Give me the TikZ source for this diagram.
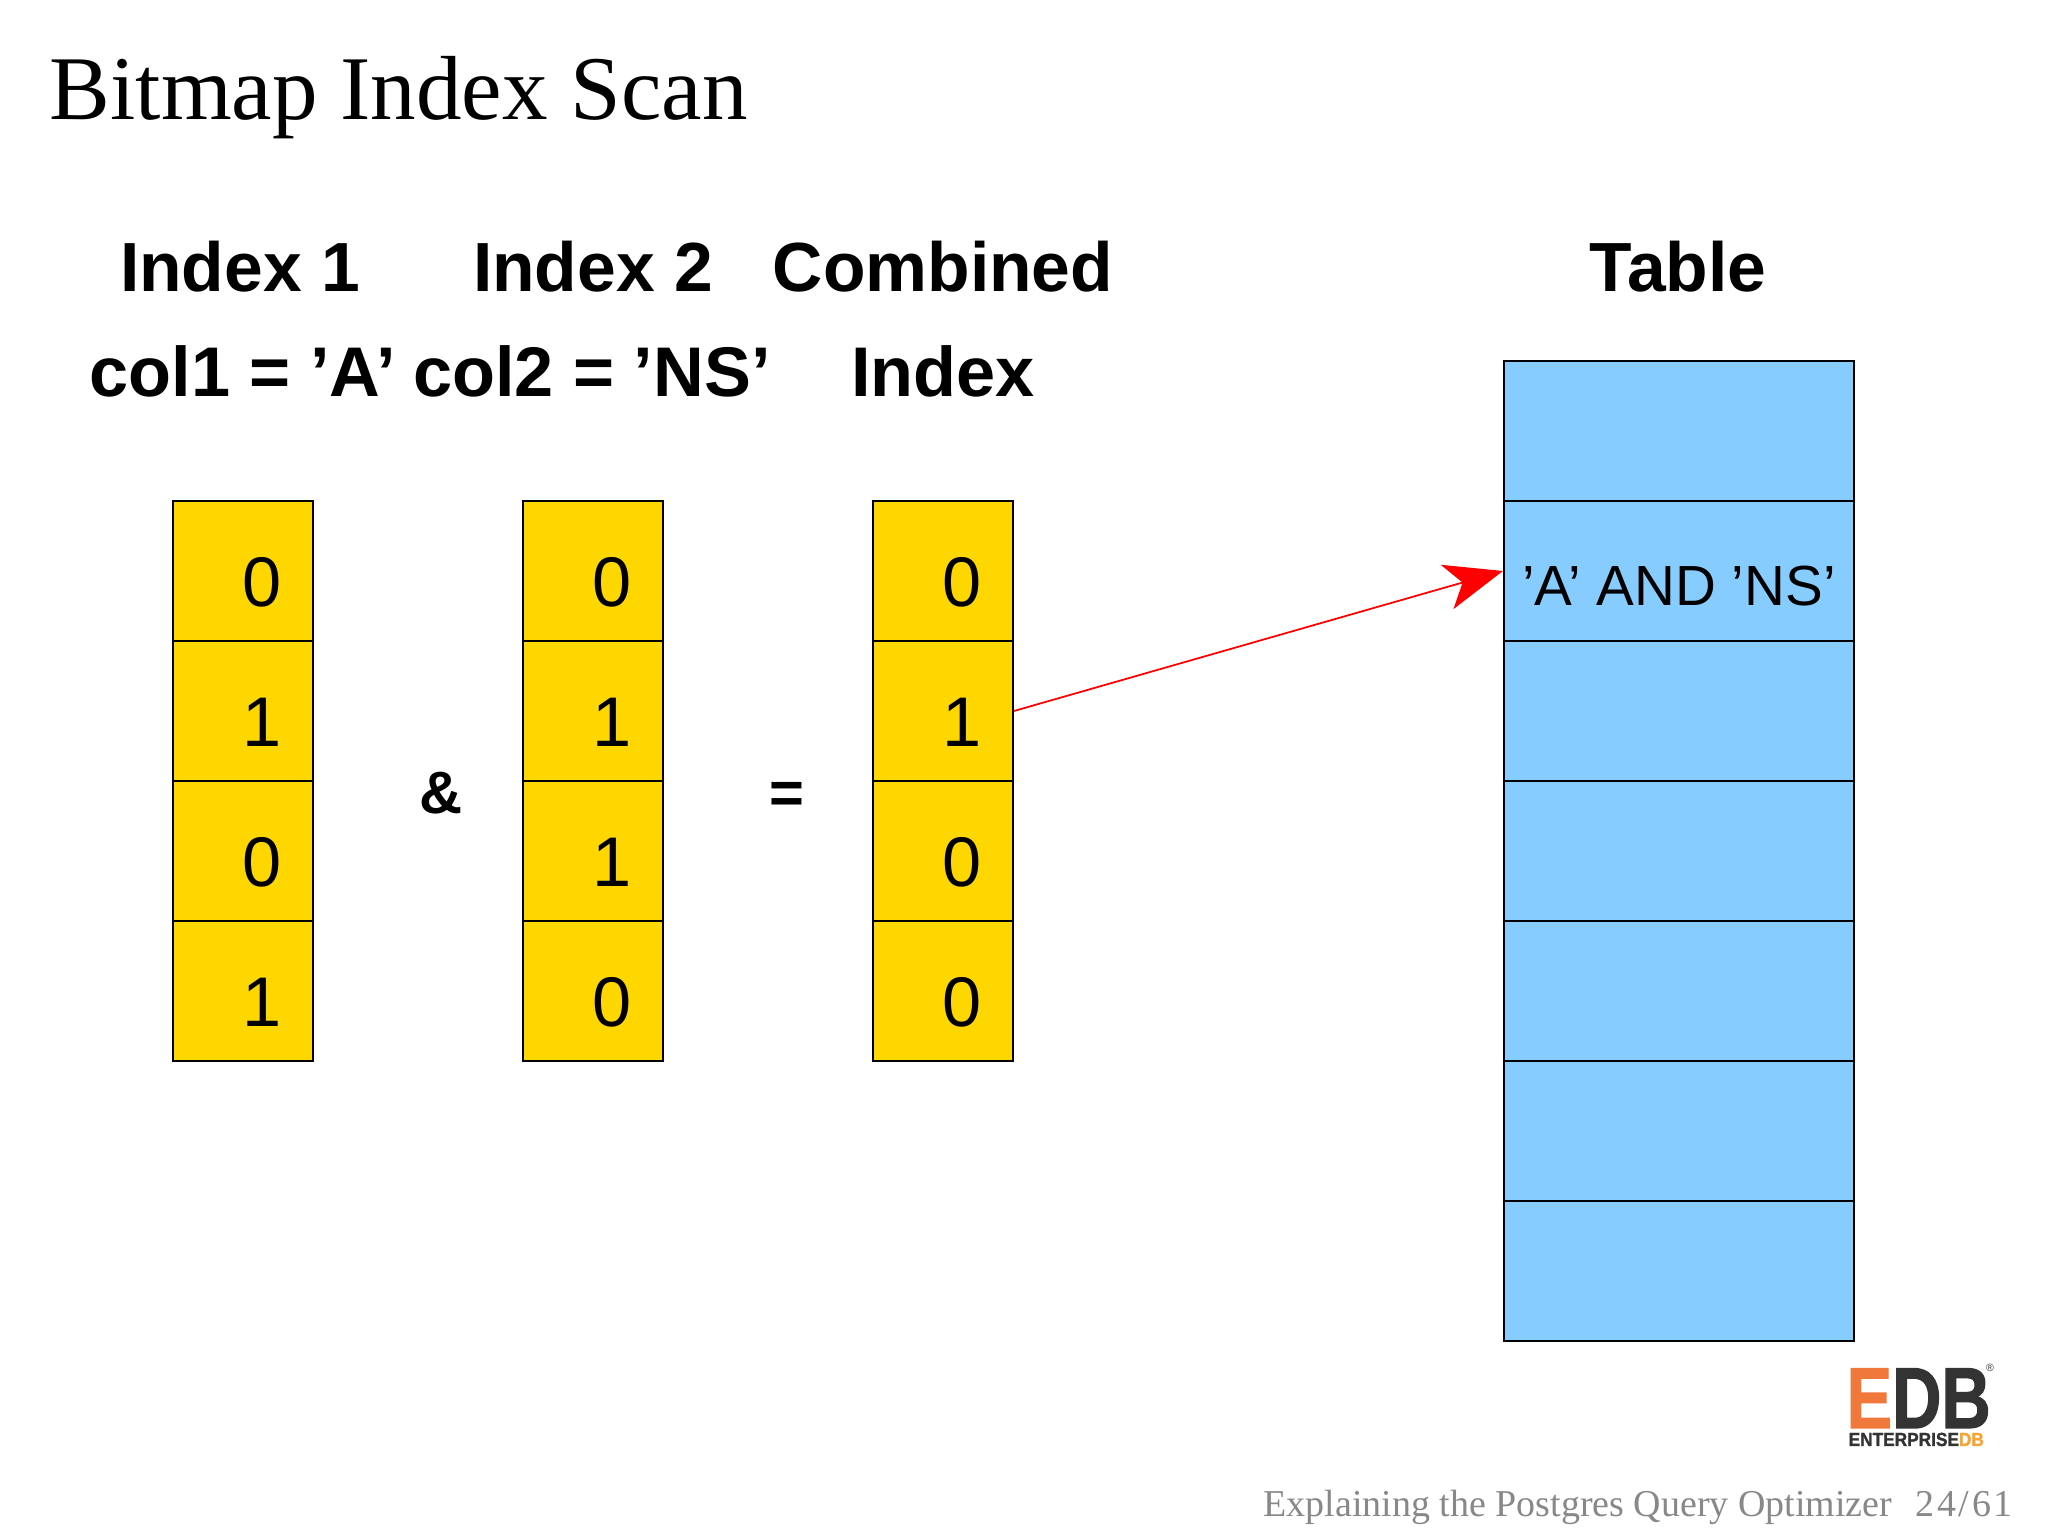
\documentclass[tikz,border=0pt]{standalone}
\usepackage{fontspec}
\setmainfont{Liberation Serif}
\newfontfamily\arial{Liberation Sans}
\newfontfamily\logofont[FakeBold=1.5]{Liberation Sans Bold}
\usetikzlibrary{arrows.meta}
\definecolor{bitgold}{HTML}{FFD700}
\definecolor{rowblue}{HTML}{87CCFF}
\definecolor{footgray}{HTML}{8A878A}
\definecolor{logoorange}{HTML}{F0783A}
\definecolor{logodark}{HTML}{333333}
\definecolor{logoamber}{HTML}{F5A633}
\tikzset{
  bitcell/.style={draw=black, line width=0.6pt, fill=bitgold, minimum width=1.4cm, minimum height=1.4cm, inner sep=0pt},
  rowcell/.style={draw=black, line width=0.6pt, fill=rowblue, minimum width=3.5cm, minimum height=1.4cm, inner sep=0pt},
  digit/.style={font=\arial\fontsize{20}{24}\selectfont, inner sep=0pt},
  heading/.style={font=\arial\bfseries\fontsize{19.8}{24}\selectfont, anchor=base, inner sep=0pt},
  subheading/.style={font=\arial\bfseries\fontsize{20}{24}\selectfont, anchor=base, inner sep=0pt},
  opsign/.style={font=\arial\bfseries\fontsize{17}{20}\selectfont, inner sep=0pt},
  footer/.style={font=\fontsize{10.8}{13}\selectfont, text=footgray, anchor=base west, inner sep=0pt}
}
\begin{document}
\begin{tikzpicture}
    \useasboundingbox (0,0) rectangle (20.48,15.36);

    \node[anchor=base west, inner sep=0pt, font=\fontsize{25.9}{30}\selectfont] (title) at (0.49,14.16) {Bitmap Index Scan};

    \node[heading] (head1) at (2.40,12.44) {Index 1};
    \node[heading] (head2) at (5.93,12.44) {Index 2};
    \node[heading] (head3) at (9.43,12.44) {Combined};
    \node[heading] (head4) at (16.78,12.44) {Table};
    \node[subheading] (sub1) at (2.43,11.39) {col1 = ’A’};
    \node[subheading] (sub2) at (5.92,11.39) {col2 = ’NS’};
    \node[subheading] (sub3) at (9.43,11.39) {Index};

    \foreach \v [count=\i] in {0,1,0,1} {
      \node[bitcell] (a\i) at (2.43,{9.65-1.4*(\i-1)}) {};
      \node[digit] (adigit\i) at ([shift={(.195,-.11)}]a\i.center) {\v};
    }
    \foreach \v [count=\i] in {0,1,1,0} {
      \node[bitcell] (b\i) at (5.93,{9.65-1.4*(\i-1)}) {};
      \node[digit] (bdigit\i) at ([shift={(.195,-.11)}]b\i.center) {\v};
    }
    \foreach \v [count=\i] in {0,1,0,0} {
      \node[bitcell] (c\i) at (9.43,{9.65-1.4*(\i-1)}) {};
      \node[digit] (cdigit\i) at ([shift={(.195,-.11)}]c\i.center) {\v};
    }

    \node[opsign] (andsign) at (4.41,7.43) {\&};
    \node[opsign] (eqsign) at (7.87,7.38) {=};

    \foreach \i in {1,...,7}
      \node[rowcell] (t\i) at (16.79,{11.05-1.4*(\i-1)}) {};
    \node[inner sep=0pt, font=\arial\fontsize{16.1}{20}\selectfont] (match) at ([yshift=-.15cm]t2.center) {’A’ AND ’NS’};

    \draw[red, line width=0.5pt, -{Stealth[length=.58cm, width=.46cm, inset=.16cm]}] (c2.east) -- (t2.west);

    \node[anchor=base west, inner sep=0pt, font=\logofont\fontsize{24.6}{28}\selectfont, xscale=.79, text depth=0pt] (logo) at (18.46,1.08) {\textcolor{logoorange}{E}\textcolor{logodark}{DB}};
    \node[anchor=base west, inner sep=0pt, font=\logofont\fontsize{5.4}{7}\selectfont, xscale=.91] (logotext) at (18.48,0.90) {\textcolor{logodark}{ENTERPRISE}\textcolor{logoamber}{DB}};
    \node[inner sep=0pt, font=\arial\fontsize{3}{4}\selectfont, text=logodark] (logomark) at (19.90,1.68) {®};

    \node[footer] (foot) at (12.63,0.19) {Explaining the Postgres Query Optimizer};
    \node[footer] (page) at (19.15,0.19) {\addfontfeature{LetterSpace=7}24/61};
  \end{tikzpicture}
\end{document}
